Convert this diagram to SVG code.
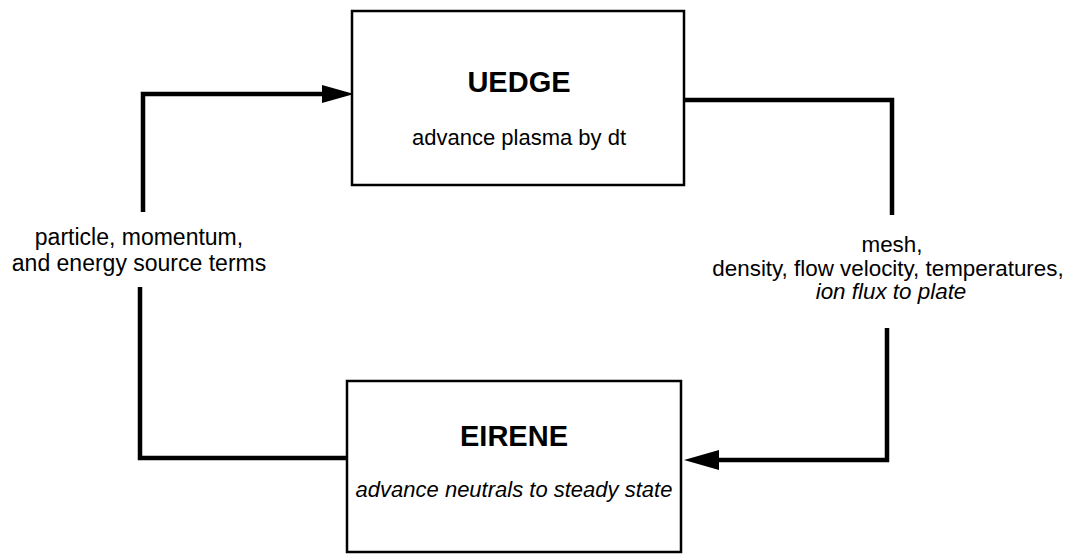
<svg xmlns="http://www.w3.org/2000/svg" width="1077" height="559" viewBox="0 0 1077 559">
<style>
.box{fill:#fff;stroke:#000;stroke-width:2.5}
.conn{fill:none;stroke:#000;stroke-width:4.5;stroke-linejoin:miter}
.t{font-family:"Liberation Sans",Arial,sans-serif;fill:#000;text-anchor:middle}
.title{font-size:29px;font-weight:bold}
.sub{font-size:22px}
.lab{font-size:22.4px}
.labl{font-size:23px}
.it{font-style:italic}
</style>
<rect width="1077" height="559" fill="#fff"/>
<g id="connectors">
<polyline class="conn" points="347,458 140,458 140,287"/>
<polyline class="conn" points="143,212 143,94 326,94"/>
<polygon points="354,94 322,85 322,103" fill="#000"/>
<polyline class="conn" points="684,100 892,100 892,215"/>
<polyline class="conn" points="887,328 887,460 716,460"/>
<polygon points="684,460 719,450 719,470" fill="#000"/>
</g>
<g id="uedge">
<rect class="box" x="352" y="11" width="332" height="174"/>
<text class="t title" x="519" y="92">UEDGE</text>
<text class="t sub" x="519" y="145">advance plasma by dt</text>
</g>
<g id="eirene">
<rect class="box" x="347" y="381" width="334" height="171"/>
<text class="t title" x="514" y="446">EIRENE</text>
<text class="t sub it" x="514" y="497">advance neutrals to steady state</text>
</g>
<g id="label-left">
<text class="t labl" x="139" y="245">particle, momentum,</text>
<text class="t labl" x="139" y="271">and energy source terms</text>
</g>
<g id="label-right">
<text class="t lab" x="892" y="252">mesh,</text>
<text class="t lab" x="888" y="276">density, flow velocity, temperatures,</text>
<text class="t lab it" x="891" y="299">ion flux to plate</text>
</g>
</svg>
